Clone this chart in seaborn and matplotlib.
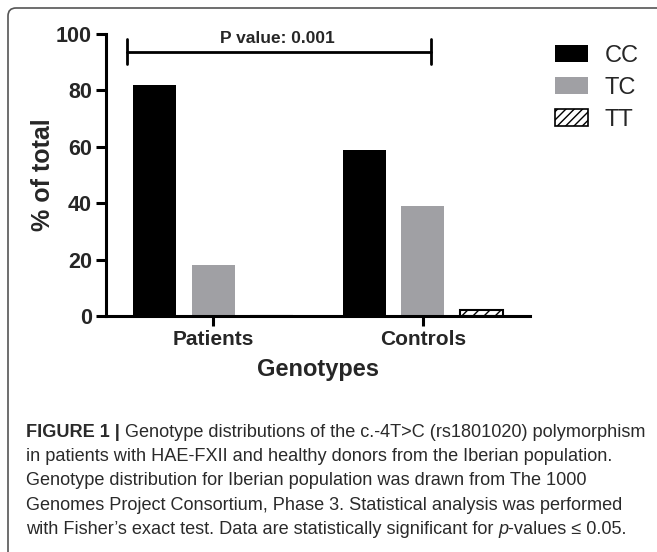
import matplotlib
matplotlib.use("Agg")
import matplotlib.pyplot as plt
from matplotlib.patches import FancyBboxPatch, Patch
from matplotlib.transforms import IdentityTransform
import pandas as pd
import seaborn as sns

# data
groups = ["Patients", "Controls"]
genotypes = ["CC", "TC", "TT"]
patients_pct = [82, 18, 0]
controls_pct = [59, 39, 2]
y_ticks = [0, 20, 40, 60, 80, 100]
p_label = "P value: 0.001"
caption_lines = [
    [("FIGURE 1 |", "bold"), ("Genotype distributions of the c.-4T>C (rs1801020) polymorphism", "normal")],
    [("in patients with HAE-FXII and healthy donors from the Iberian population.", "normal")],
    [("Genotype distribution for Iberian population was drawn from The 1000", "normal")],
    [("Genomes Project Consortium, Phase 3. Statistical analysis was performed", "normal")],
    [("with Fisher\u2019s exact test. Data are statistically significant for", "normal"),
     ("p", "italic"), ("-values \u2264 0.05.", "normal_nospace")],
]

colors = {"CC": "black", "TC": "#a0a0a4", "TT": "white"}

sns.set_theme(style="ticks")
plt.rcParams["font.family"] = ["Liberation Sans", "DejaVu Sans"]
plt.rcParams["hatch.linewidth"] = 1.0

W, H = 657, 552
df = pd.DataFrame({
    "group": [g for g in groups for _ in genotypes],
    "genotype": genotypes * len(groups),
    "pct": patients_pct + controls_pct,
})

fig = plt.figure(figsize=(W / 100, H / 100), dpi=100)
ax = fig.add_axes([106 / W, 1 - 316 / H, (530 - 106) / W, (316 - 34) / H])

sns.barplot(data=df, x="group", y="pct", hue="genotype", order=groups,
            hue_order=genotypes, palette=colors, width=0.83, gap=0.26,
            errorbar=None, linewidth=0, legend=False, ax=ax)

# hatched TT bars
for bar in ax.containers[2]:
    bar.set_edgecolor("black")
    bar.set_linewidth(1.5)
    bar.set_hatch("///")

ax.set_xlim(-0.51, 1.51)
ax.set_ylim(0, 100)
ax.set_yticks(y_ticks)
sns.despine(ax=ax)
for side in ["left", "bottom"]:
    ax.spines[side].set_linewidth(2.2)
    ax.spines[side].set_color("black")
ax.tick_params(direction="out", length=7, width=2.2, labelsize=15.5, color="black", pad=3)
for lab in ax.get_xticklabels() + ax.get_yticklabels():
    lab.set_fontweight("bold")
ax.tick_params(axis="x", labelsize=15)

ax.set_xlabel("Genotypes", fontsize=17, fontweight="bold")
ax.set_ylabel("% of total", fontsize=18, fontweight="bold")
ax.xaxis.set_label_coords(0.5, -0.149)
ax.yaxis.set_label_coords(-0.12, 0.5)

# significance bracket
bracket_x = (-0.41, 1.04)
bracket_y = 93.6
tick_span = (89.4, 98.2)
ax.plot(bracket_x, [bracket_y, bracket_y], color="black", lw=2, clip_on=False)
for bx in bracket_x:
    ax.plot([bx, bx], tick_span, color="black", lw=2, clip_on=False)
ax.text(0.305, 96.8, p_label, ha="center", va="baseline", fontsize=12.5,
        fontweight="bold", clip_on=False)

# legend
handles = [Patch(facecolor=colors["CC"], edgecolor="black", lw=0),
           Patch(facecolor=colors["TC"], lw=0),
           Patch(facecolor="white", edgecolor="black", hatch="////", lw=1.2)]
fig.legend(handles, genotypes, loc="upper left", bbox_to_anchor=(555 / W, 1 - 45 / H),
           frameon=False, fontsize=17, handlelength=1.4, handleheight=0.7,
           handletextpad=0.7, labelspacing=0.42, borderpad=0, borderaxespad=0)

# frame around the figure
frame = FancyBboxPatch((8, -40), 720, H - 8 + 40, boxstyle="round,pad=0,rounding_size=8",
                       transform=IdentityTransform(), facecolor="none",
                       edgecolor="#555555", lw=1.2)
fig.add_artist(frame)

# caption
renderer = fig.canvas.get_renderer()


def width_of(s, size, style):
    kw = {"fontweight": "bold"} if style == "bold" else {}
    if style == "italic":
        kw = {"fontstyle": "italic"}
    t = fig.text(0, 0, s, fontsize=size, **kw)
    w = t.get_window_extent(renderer).width
    t.remove()
    return w


def draw_line(runs, x, y, size):
    space = width_of("a a", size, "normal") - width_of("aa", size, "normal")
    for i, (s, style) in enumerate(runs):
        kw = {}
        if style == "bold":
            kw["fontweight"] = "bold"
        if style == "italic":
            kw["fontstyle"] = "italic"
        if i > 0 and style not in ("italic", "normal_nospace"):
            x += space
        if style == "italic":
            x += space
        t = fig.text(x / W, 1 - y / H, s, fontsize=size, va="baseline",
                     color="#2a2a2a", **kw)
        x += t.get_window_extent(renderer).width


# fit the caption width
base = 12
first_w = sum(width_of(s, base, st) for s, st in caption_lines[0]) + \
    width_of("a a", base, "normal") - width_of("aa", base, "normal")
cap_size = base * 622 / first_w

cap_x = 26
cap_y0 = 437
cap_step = 24.2
for i, runs in enumerate(caption_lines):
    draw_line(runs, cap_x, cap_y0 + i * cap_step, cap_size)

fig.savefig("out.png", dpi=100)
